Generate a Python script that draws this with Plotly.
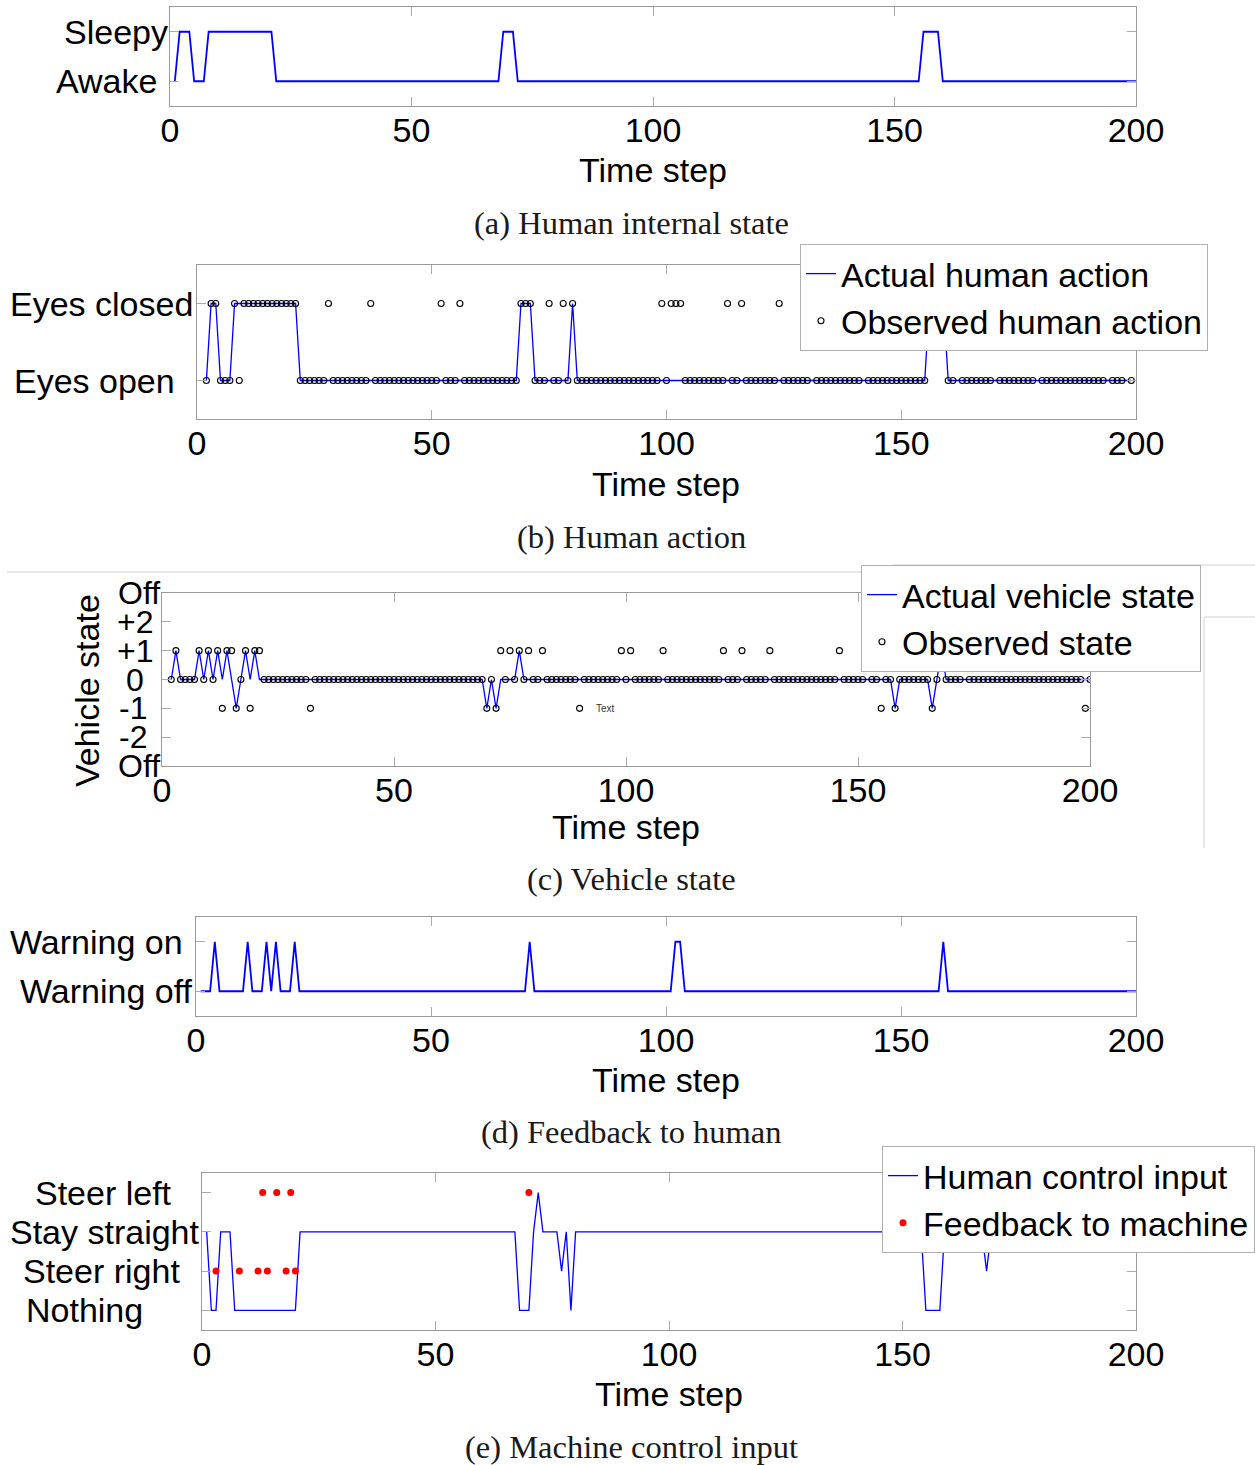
import plotly.graph_objects as go

W, H = 1255, 1465

# ---------------- data ----------------
x_ticks = [0, 50, 100, 150, 200]

# (a) Human internal state, t = 1..200 (0 = Awake, 1 = Sleepy)
t_a = list(range(1, 201))
state_a = [
    0,1,1,1,0,0,0,1,1,1,1,1,1,1,1,1,1,1,1,1,
    1,0,0,0,0,0,0,0,0,0,0,0,0,0,0,0,0,0,0,0,
    0,0,0,0,0,0,0,0,0,0,0,0,0,0,0,0,0,0,0,0,
    0,0,0,0,0,0,0,0,1,1,1,0,0,0,0,0,0,0,0,0,
    0,0,0,0,0,0,0,0,0,0,0,0,0,0,0,0,0,0,0,0,
    0,0,0,0,0,0,0,0,0,0,0,0,0,0,0,0,0,0,0,0,
    0,0,0,0,0,0,0,0,0,0,0,0,0,0,0,0,0,0,0,0,
    0,0,0,0,0,0,0,0,0,0,0,0,0,0,0,1,1,1,1,0,
    0,0,0,0,0,0,0,0,0,0,0,0,0,0,0,0,0,0,0,0,
    0,0,0,0,0,0,0,0,0,0,0,0,0,0,0,0,0,0,0,0,
]
labels_a = ["Awake", "Sleepy"]

# (b) Human action, t = 2..199 (0 = Eyes open, 1 = Eyes closed)
t_b = list(range(2, 200))
action_b = [
    0,1,1,0,0,0,1,1,1,1,1,1,1,1,1,1,1,1,1,1,
    0,0,0,0,0,0,0,0,0,0,0,0,0,0,0,0,0,0,0,0,
    0,0,0,0,0,0,0,0,0,0,0,0,0,0,0,0,0,0,0,0,
    0,0,0,0,0,0,0,1,1,1,0,0,0,0,0,0,0,0,1,0,
    0,0,0,0,0,0,0,0,0,0,0,0,0,0,0,0,0,0,0,0,
    0,0,0,0,0,0,0,0,0,0,0,0,0,0,0,0,0,0,0,0,
    0,0,0,0,0,0,0,0,0,0,0,0,0,0,0,0,0,0,0,0,
    0,0,0,0,0,0,0,0,0,0,0,0,0,0,1,1,1,1,0,0,
    0,0,0,0,0,0,0,0,0,0,0,0,0,0,0,0,0,0,0,0,
    0,0,0,0,0,0,0,0,0,0,0,0,0,0,0,0,0,0,
]
observed_b = [
    0,1,1,0,0,0,1,0,1,1,1,1,1,1,1,1,1,1,1,1,
    0,0,0,0,0,0,1,0,0,0,0,0,0,0,0,1,0,0,0,0,
    0,0,0,0,0,0,0,0,0,0,1,0,0,0,1,0,0,0,0,0,
    0,0,0,0,0,0,0,1,1,1,0,0,0,1,0,0,1,0,1,0,
    0,0,0,0,0,0,0,0,0,0,0,0,0,0,0,0,0,1,0,1,
    1,1,0,0,0,0,0,0,0,0,0,1,0,0,1,0,0,0,0,0,
    0,0,1,0,0,0,0,0,0,1,0,0,0,0,0,0,0,0,0,0,
    1,0,0,0,0,0,0,0,0,0,0,0,0,0,1,1,1,1,0,0,
    1,0,0,0,0,0,0,0,1,0,0,0,0,0,0,0,0,1,0,0,
    0,0,0,0,0,0,0,0,0,0,0,0,1,0,0,0,1,0,
]
labels_b = ["Eyes open", "Eyes closed"]

# (c) Vehicle state, t = 2..200 (-3 / 3 = Off)
t_c = list(range(2, 201))
vehicle_c = [
    0,1,0,0,0,0,1,0,1,0,1,0,1,0,-1,0,1,0,1,0,
    0,0,0,0,0,0,0,0,0,0,0,0,0,0,0,0,0,0,0,0,
    0,0,0,0,0,0,0,0,0,0,0,0,0,0,0,0,0,0,0,0,
    0,0,0,0,0,0,0,0,-1,0,-1,0,0,0,0,1,0,0,0,0,
    0,0,0,0,0,0,0,0,0,0,0,0,0,0,0,0,0,0,0,0,
    0,0,0,0,0,0,0,0,0,0,0,0,0,0,0,0,0,0,0,0,
    0,0,0,0,0,0,0,0,0,0,0,0,0,0,0,0,0,0,0,0,
    0,0,0,0,0,0,0,0,0,0,0,0,0,0,0,0,-1,0,0,0,
    0,0,0,0,-1,0,1,0,0,0,0,0,0,0,0,0,0,0,0,0,
    0,0,0,0,0,0,0,0,0,0,0,0,0,0,0,0,0,0,0,
]
observed_c = [
    0,1,0,0,0,0,1,0,1,0,1,-1,1,1,-1,0,1,-1,1,1,
    0,0,0,0,0,0,0,0,0,0,-1,0,0,0,0,0,0,0,0,0,
    0,0,0,0,0,0,0,0,0,0,0,0,0,0,0,0,0,0,0,0,
    0,0,0,0,0,0,0,0,-1,0,-1,1,0,1,0,1,0,1,0,0,
    1,0,0,0,0,0,0,0,-1,0,0,0,0,0,0,0,0,1,0,1,
    0,0,0,0,0,0,1,0,0,0,0,0,0,0,0,0,0,0,0,1,
    0,0,0,1,0,0,0,0,0,1,0,0,0,0,0,0,0,0,0,0,
    0,0,0,0,1,0,0,0,0,0,1,0,0,-1,0,0,-1,0,0,0,
    0,0,0,0,-1,0,1,0,0,0,0,1,0,0,0,0,0,0,0,0,
    0,0,0,0,0,0,0,0,0,0,0,0,0,0,0,0,0,-1,0,
]
labels_c = ["Off", "-2", "-1", "0", "+1", "+2", "Off"]
levels_c = [-3, -2, -1, 0, 1, 2, 3]

# (d) Feedback to human, t = 1..200 (0 = Warning off, 1 = Warning on)
t_d = list(range(1, 201))
warning_d = [
    0,0,0,1,0,0,0,0,0,0,1,0,0,0,1,0,1,0,0,0,
    1,0,0,0,0,0,0,0,0,0,0,0,0,0,0,0,0,0,0,0,
    0,0,0,0,0,0,0,0,0,0,0,0,0,0,0,0,0,0,0,0,
    0,0,0,0,0,0,0,0,0,0,1,0,0,0,0,0,0,0,0,0,
    0,0,0,0,0,0,0,0,0,0,0,0,0,0,0,0,0,0,0,0,
    0,1,1,0,0,0,0,0,0,0,0,0,0,0,0,0,0,0,0,0,
    0,0,0,0,0,0,0,0,0,0,0,0,0,0,0,0,0,0,0,0,
    0,0,0,0,0,0,0,0,0,0,0,0,0,0,0,0,0,0,1,0,
    0,0,0,0,0,0,0,0,0,0,0,0,0,0,0,0,0,0,0,0,
    0,0,0,0,0,0,0,0,0,0,0,0,0,0,0,0,0,0,0,0,
]
labels_d = ["Warning off", "Warning on"]

# (e) Machine control input, t = 1..200
# 0 = Nothing, 1 = Steer right, 2 = Stay straight, 3 = Steer left
t_e = list(range(1, 201))
human_input_e = [
    2,0,0,2,2,2,0,0,0,0,0,0,0,0,0,0,0,0,0,0,
    2,2,2,2,2,2,2,2,2,2,2,2,2,2,2,2,2,2,2,2,
    2,2,2,2,2,2,2,2,2,2,2,2,2,2,2,2,2,2,2,2,
    2,2,2,2,2,2,2,0,0,0,2,3,2,2,2,2,1,2,0,2,
    2,2,2,2,2,2,2,2,2,2,2,2,2,2,2,2,2,2,2,2,
    2,2,2,2,2,2,2,2,2,2,2,2,2,2,2,2,2,2,2,2,
    2,2,2,2,2,2,2,2,2,2,2,2,2,2,2,2,2,2,2,2,
    2,2,2,2,2,2,2,2,2,2,2,2,2,2,0,0,0,0,2,2,
    2,2,2,2,2,2,2,1,2,2,2,2,2,2,2,2,2,2,2,2,
    2,2,2,2,2,2,2,2,2,2,2,2,2,2,2,2,2,2,2,2,
]
feedback_t = [3, 8, 12, 13, 14, 16, 18, 19, 20, 70]
feedback_v = [1, 1, 1, 3, 1, 3, 1, 3, 1, 3]
labels_e = ["Nothing", "Steer right", "Stay straight", "Steer left"]

captions = ["(a) Human internal state", "(b) Human action", "(c) Vehicle state",
            "(d) Feedback to human", "(e) Machine control input"]

# ---------------- styling / layout ----------------
SANS = "Liberation Sans, Arial, Helvetica, sans-serif"
SERIF = "Liberation Serif, Times New Roman, serif"
FS = 34
BLUE = "#0000ff"
BOX = "#9a9a9a"

def fx(p):
    return p / W

def fy(p):
    return 1 - p / H

# pixel boxes: (left, top, right, bottom)
boxes = {
    1: (170, 7, 1136, 106),
    2: (197, 265, 1136, 419),
    3: (162, 593, 1090, 766),
    4: (196, 917, 1136, 1016),
    5: (202, 1173, 1136, 1330),
}
yranges = {1: [-0.5, 1.5], 2: [-0.5, 1.5], 3: [-3, 3], 4: [-0.5, 1.5], 5: [-0.5, 3.5]}
yticks = {1: [0, 1], 2: [0, 1], 3: levels_c, 4: [0, 1], 5: [0, 1, 2, 3]}

fig = go.Figure()

# (a)
fig.add_trace(go.Scatter(x=t_a, y=state_a, mode="lines", line=dict(color=BLUE, width=1.8),
                         xaxis="x", yaxis="y", showlegend=False))
# (b)
fig.add_trace(go.Scatter(x=t_b, y=action_b, mode="lines", line=dict(color=BLUE, width=1.3),
                         xaxis="x2", yaxis="y2", name="Actual human action", legend="legend"))
fig.add_trace(go.Scatter(x=t_b, y=observed_b, mode="markers",
                         marker=dict(symbol="circle-open", size=6, color="black", line=dict(width=1.1)),
                         xaxis="x2", yaxis="y2", name="Observed human action", legend="legend"))
# (c)
fig.add_trace(go.Scatter(x=t_c, y=vehicle_c, mode="lines", line=dict(color=BLUE, width=1.3),
                         xaxis="x3", yaxis="y3", name="Actual vehicle state", legend="legend2"))
fig.add_trace(go.Scatter(x=t_c, y=observed_c, mode="markers",
                         marker=dict(symbol="circle-open", size=6, color="black", line=dict(width=1.1)),
                         xaxis="x3", yaxis="y3", name="Observed state", legend="legend2"))
# (d)
fig.add_trace(go.Scatter(x=t_d, y=warning_d, mode="lines", line=dict(color=BLUE, width=1.8),
                         xaxis="x4", yaxis="y4", showlegend=False))
# (e)
fig.add_trace(go.Scatter(x=t_e, y=human_input_e, mode="lines", line=dict(color=BLUE, width=1.3),
                         xaxis="x5", yaxis="y5", name="Human control input", legend="legend3"))
fig.add_trace(go.Scatter(x=feedback_t, y=feedback_v, mode="markers",
                         marker=dict(symbol="circle", size=7, color="#ff0000"),
                         xaxis="x5", yaxis="y5", name="Feedback to machine", legend="legend3"))

layout = dict(
    width=W, height=H, margin=dict(l=0, r=0, t=0, b=0, autoexpand=False),
    paper_bgcolor="white", plot_bgcolor="white",
    font=dict(family=SANS, size=FS, color="black"),
)

for i, (l, t, r, b) in boxes.items():
    sx = "" if i == 1 else str(i)
    layout["xaxis" + sx] = dict(
        domain=[fx(l), fx(r)], range=[0, 200], anchor="y" + sx, automargin=False,
        tickvals=x_ticks, ticktext=[str(v) for v in x_ticks],
        ticks="inside", ticklen=9, tickcolor="#aaaaaa", tickwidth=1,
        showline=True, linecolor=BOX, linewidth=1, mirror="ticks",
        showgrid=False, zeroline=False, ticklabelstandoff=-6,
        tickfont=dict(family=SANS, size=FS, color="black"),
    )
    layout["yaxis" + sx] = dict(
        domain=[fy(b), fy(t)], range=yranges[i], anchor="x" + sx, automargin=False,
        tickvals=yticks[i], showticklabels=False,
        ticks="inside", ticklen=9, tickcolor="#aaaaaa", tickwidth=1,
        showline=True, linecolor=BOX, linewidth=1, mirror="ticks",
        showgrid=False, zeroline=False,
    )

leg_common = dict(bgcolor="white", bordercolor="#b0b0b0", borderwidth=1,
                  font=dict(family=SANS, size=FS, color="black"),
                  xanchor="left", yanchor="top", itemwidth=30, tracegroupgap=0)
layout["legend"] = dict(x=fx(800), y=fy(244), **leg_common)
layout["legend2"] = dict(x=fx(861), y=fy(565), **leg_common)
layout["legend3"] = dict(x=fx(882), y=fy(1146), **leg_common)

# faint leftover frame lines around panel (c)
line_style = dict(color="#d0d0d0", width=1)
layout["shapes"] = [
    dict(type="line", xref="paper", yref="paper", x0=fx(7), x1=fx(863), y0=fy(572), y1=fy(572), line=line_style),
    dict(type="line", xref="paper", yref="paper", x0=fx(893), x1=fx(1255), y0=fy(565), y1=fy(565), line=line_style),
    dict(type="line", xref="paper", yref="paper", x0=fx(1204), x1=fx(1204), y0=fy(617), y1=fy(848), line=line_style),
    dict(type="line", xref="paper", yref="paper", x0=fx(1204), x1=fx(1255), y0=fy(617), y1=fy(617), line=line_style),
]

fig.update_layout(**layout)

ann = []
# y tick labels (left x pixel, axis value, text, font size)
ylab = [
    ("y", [(54, 0, labels_a[0], FS), (62, 1, labels_a[1], FS)]),
    ("y2", [(12, 0, labels_b[0], FS), (8, 1, labels_b[1], FS)]),
    ("y3", [(116, -3, labels_c[0], 32), (117, -2, labels_c[1], 32), (117, -1, labels_c[2], 32),
            (124, 0, labels_c[3], 32), (115, 1, labels_c[4], 32), (115, 2, labels_c[5], 32),
            (116, 3, labels_c[6], 32)]),
    ("y4", [(18, 0, labels_d[0], FS), (8, 1, labels_d[1], FS)]),
    ("y5", [(24, 0, labels_e[0], FS), (21, 1, labels_e[1], FS), (8, 2, labels_e[2], FS),
            (33, 3, labels_e[3], FS)]),
]
for yref, items in ylab:
    for px, val, txt, fs in items:
        ann.append(dict(x=fx(px), y=val, xref="paper", yref=yref, text=txt, showarrow=False,
                        xanchor="left", yanchor="middle", font=dict(family=SANS, size=fs, color="black")))

# "Time step" titles
for cx, cy in [(653, 170), (666, 484), (626, 827), (666, 1080), (669, 1394)]:
    ann.append(dict(x=fx(cx), y=fy(cy), xref="paper", yref="paper", text="Time step", showarrow=False,
                    xanchor="center", yanchor="middle", font=dict(family=SANS, size=FS, color="black")))

# captions
for cap, cy in zip(captions, [223, 537, 879, 1132, 1447]):
    ann.append(dict(x=fx(631), y=fy(cy), xref="paper", yref="paper", text=cap, showarrow=False,
                    xanchor="center", yanchor="middle", font=dict(family=SERIF, size=32.5, color="#1a1a1a")))

# vehicle state axis title
ann.append(dict(x=fx(87), y=fy(691), xref="paper", yref="paper", text="Vehicle state", showarrow=False,
                textangle=-90, xanchor="center", yanchor="middle", font=dict(family=SANS, size=FS, color="black")))
# stray "Text" label in panel (c)
ann.append(dict(x=95.5, y=-1, xref="x3", yref="y3", text="Text", showarrow=False,
                xanchor="center", yanchor="middle", font=dict(family=SANS, size=10, color="#333333")))

fig.update_layout(annotations=ann)

fig.write_html("out.html")
